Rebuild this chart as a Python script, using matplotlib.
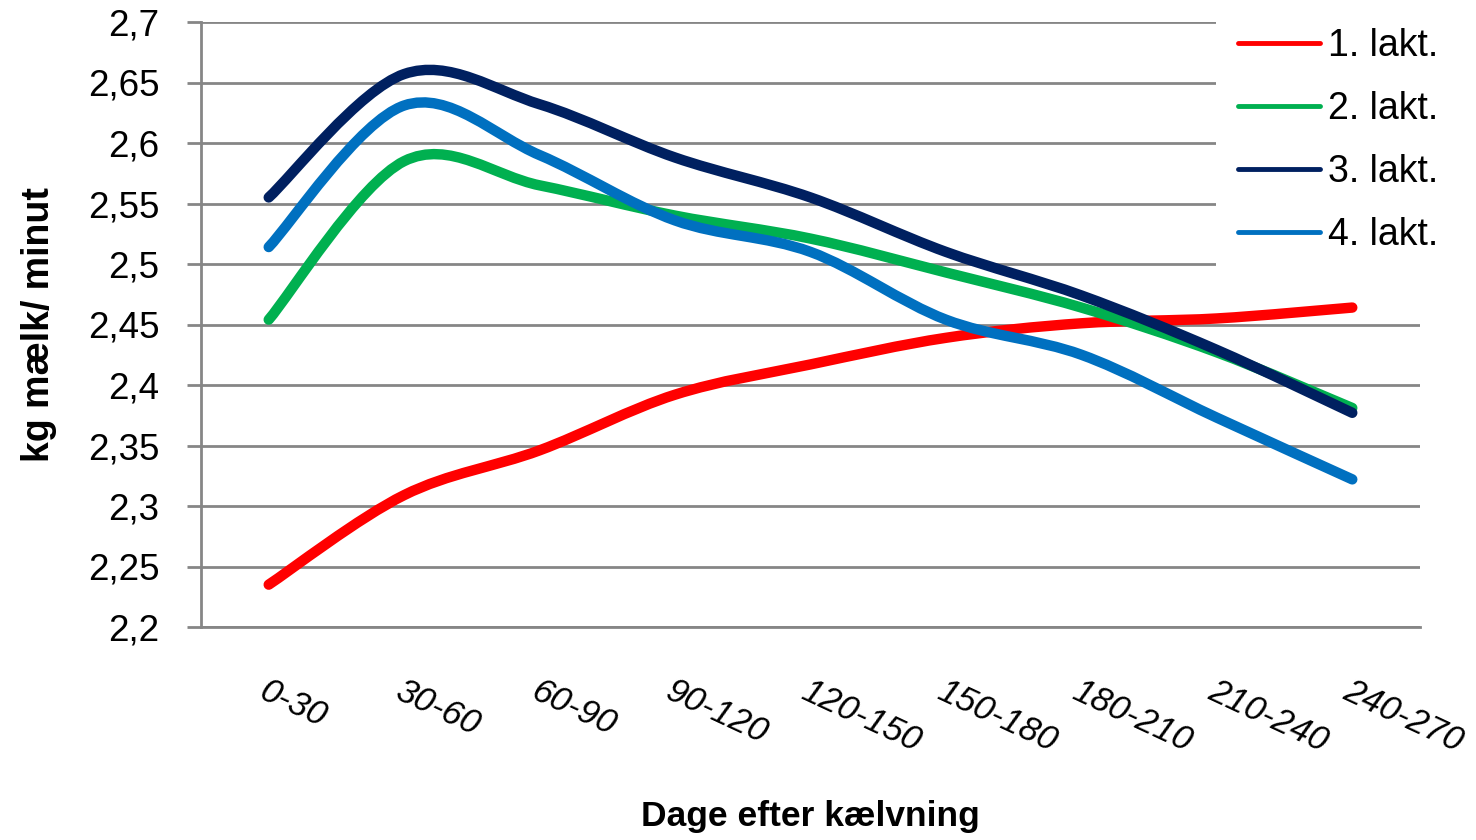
import matplotlib
matplotlib.use("Agg")
from matplotlib import pyplot as plt
from matplotlib.path import Path
from matplotlib.patches import PathPatch
from matplotlib.lines import Line2D

# data
categories = ["0-30", "30-60", "60-90", "90-120", "120-150",
              "150-180", "180-210", "210-240", "240-270"]
lakt1 = [2.235, 2.309, 2.346, 2.392, 2.417, 2.439, 2.451, 2.455, 2.464]
lakt2 = [2.454, 2.585, 2.565, 2.540, 2.521, 2.493, 2.464, 2.427, 2.381]
lakt3 = [2.555, 2.657, 2.632, 2.588, 2.555, 2.510, 2.474, 2.429, 2.377]
lakt4 = [2.514, 2.631, 2.590, 2.536, 2.510, 2.454, 2.425, 2.373, 2.322]
series_names = ["1. lakt.", "2. lakt.", "3. lakt.", "4. lakt."]
colors = ["#FF0000", "#00B050", "#002060", "#0070C0"]
yticks = [2.2, 2.25, 2.3, 2.35, 2.4, 2.45, 2.5, 2.55, 2.6, 2.65, 2.7]

plt.rcParams['font.family'] = ['Liberation Sans', 'DejaVu Sans']


def smooth_path(xs, ys):
    # excel style smoothed line as cubic bezier segments
    n = len(xs)
    verts = [(xs[0], ys[0])]
    codes = [Path.MOVETO]
    for i in range(n - 1):
        i0 = max(i - 1, 0)
        i3 = min(i + 2, n - 1)
        c1 = (xs[i] + (xs[i + 1] - xs[i0]) / 6, ys[i] + (ys[i + 1] - ys[i0]) / 6)
        c2 = (xs[i + 1] - (xs[i3] - xs[i]) / 6, ys[i + 1] - (ys[i3] - ys[i]) / 6)
        verts += [c1, c2, (xs[i + 1], ys[i + 1])]
        codes += [Path.CURVE4] * 3
    return Path(verts, codes)


fig = plt.figure(figsize=(14.76, 8.4), dpi=100)
ax = fig.add_axes([201 / 1476, 213 / 840, 1219 / 1476, 605 / 840])

grid_c = "#868686"
x = list(range(len(categories)))
handles = []
for vals, name, c in zip([lakt1, lakt2, lakt3, lakt4], series_names, colors):
    ax.add_patch(PathPatch(smooth_path(x, vals), fill=False, edgecolor=c,
                           lw=7.5, capstyle='round', joinstyle='round', zorder=3))
    handles.append(Line2D([], [], color=c, lw=3.5, solid_capstyle='round', label=name))

ax.set_xlim(-0.5, len(categories) - 0.5)
ax.set_ylim(2.2, 2.7)
ax.set_yticks(yticks)
ax.set_yticklabels([("%g" % v).replace(".", ",") for v in yticks], fontsize=26.5)
ax.yaxis.grid(True, color=grid_c, lw=2)
ax.set_axisbelow(True)
ax.tick_params(axis='y', length=10, width=2, color=grid_c, pad=20)

ax.set_xticks(x)
ax.set_xticklabels(categories, fontsize=25, rotation=-25, ha='left', va='top',
                   rotation_mode='anchor', style='italic')
ax.tick_params(axis='x', length=0, pad=34)

for s in ['top', 'right']:
    ax.spines[s].set_visible(False)
for s in ['left', 'bottom']:
    ax.spines[s].set_color(grid_c)
    ax.spines[s].set_linewidth(2)

ax.set_ylabel("kg mælk/ minut", fontsize=27, fontweight='bold', labelpad=22)
ax.set_xlabel("Dage efter kælvning", fontsize=25.5, fontweight='bold', labelpad=30)

leg = ax.legend(handles=handles, loc='upper left',
                bbox_to_anchor=(1216 / 1476, 1 - 6 / 840),
                bbox_transform=fig.transFigure, fontsize=27, frameon=True,
                fancybox=False, edgecolor='none', facecolor='white', framealpha=1,
                handlelength=2.2, handletextpad=0.2, labelspacing=0.72,
                borderaxespad=0, borderpad=0.58)

fig.savefig("out.png", dpi=100, facecolor='white')
